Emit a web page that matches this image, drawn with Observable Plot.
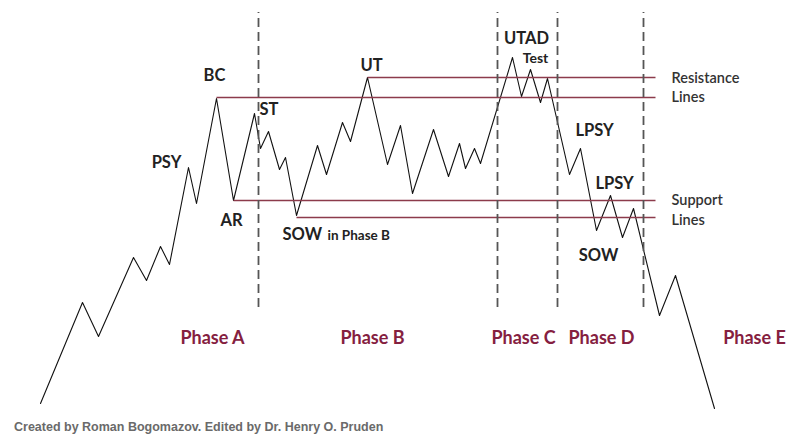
<!DOCTYPE html>
<html>
<head>
<meta charset="utf-8">
<script src="https://cdn.jsdelivr.net/npm/d3@7"></script>
<script src="https://cdn.jsdelivr.net/npm/@observablehq/plot@0.6"></script>
<style>
  html, body { margin: 0; padding: 0; background: #fff; }
  #chart { width: 787px; }
  #caption { font-family: "Liberation Sans", Arial, sans-serif; font-weight: bold; font-size: 12.5px; color: #6a6a6a; padding-left: 14px; height: 22px; line-height: 18px; }
</style>
</head>
<body>
<div id="chart"></div>
<div id="caption">Created by Roman Bogomazov. Edited by Dr. Henry O. Pruden</div>
<script>
// Price path (time, price) read from the schematic
const pathT = [40,82,98,133,146,160,169,188,196,216,233,254,260,268,279,285,296,317,326,342,350,367,387,400,412,433,448,459,465,474,480,512,521,530,540,547,569,580,596,610,622,633,659,675,714];
const pathP = [37,138,104,183,160,194,176,273,237,342,240,327,292,309,271,283,225,295,266,318,299,363,276,315,247,311,264,297,272,292,277,383,344,371,338,362,266,292,210,245,203,232,125,165,32];

// Resistance / support levels
const levelNames = ["Resistance (UT)", "Resistance (BC)", "Support (AR)", "Support (SOW)"];
const levelPrice = [363, 343, 240, 223];
const levelStart = [367, 216, 233, 296];
const levelEnd = [655, 655, 655, 655];

// Phase boundaries
const phaseBounds = [258, 497, 557, 643];
const boundTop = 428, boundBottom = 133;

// Phase labels
const phaseNames = ["Phase A", "Phase B", "Phase C", "Phase D", "Phase E"];
const phaseCenters = [212, 372, 523, 601, 754];
const phaseLabelPrice = 102;

// Event labels
const eventText = ["BC", "PSY", "AR", "ST", "UT", "UTAD", "LPSY", "LPSY", "SOW"];
const eventT = [214, 166, 231, 259, 371, 526, 594, 614, 598];
const eventP = [365, 278, 220, 331, 375, 402, 310, 257, 185];
const eventAnchor = ["middle", "middle", "middle", "start", "middle", "middle", "middle", "middle", "middle"];

const path = pathT.map((t, i) => ({t, p: pathP[i]}));
const levels = levelNames.map((n, i) => ({n, p: levelPrice[i], x1: levelStart[i], x2: levelEnd[i]}));
const bounds = phaseBounds.map(t => ({t, y1: boundBottom, y2: boundTop}));
const phases = phaseNames.map((n, i) => ({n, t: phaseCenters[i], p: phaseLabelPrice}));
const events = eventText.map((n, i) => ({n, t: eventT[i], p: eventP[i], a: eventAnchor[i]}));
const eventsStart = events.filter(d => d.a === "start");
const eventsMid = events.filter(d => d.a === "middle");

const labelFont = "Lato, 'Open Sans', sans-serif";

const chart = Plot.plot({
  width: 787,
  height: 418,
  margin: 0,
  x: {domain: [0, 787], range: [0, 787], axis: null},
  y: {domain: [22, 440], range: [418, 0], axis: null},
  style: {background: "#fff"},
  marks: [
    Plot.line(path, {x: "t", y: "p", stroke: "#111", strokeWidth: 1.1}),
    Plot.link(levels, {x1: "x1", x2: "x2", y1: "p", y2: "p", stroke: "#8c3b4b", strokeWidth: 1.4}),
    Plot.ruleX(bounds, {x: "t", y1: "y1", y2: "y2", stroke: "#555", strokeWidth: 1.8, strokeDasharray: "9,5"}),
    Plot.text(eventsMid, {x: "t", y: "p", text: "n", textAnchor: "middle", fontSize: 16.5, fontWeight: "bold", fill: "#222", fontFamily: labelFont}),
    Plot.text(eventsStart, {x: "t", y: "p", text: "n", textAnchor: "start", fontSize: 16.5, fontWeight: "bold", fill: "#222", fontFamily: labelFont}),
    Plot.text([{n: "SOW", t: 282, p: 206}], {x: "t", y: "p", text: "n", textAnchor: "start", fontSize: 16.5, fontWeight: "bold", fill: "#222", fontFamily: labelFont}),
    Plot.text([{n: "in Phase B", t: 327, p: 205}], {x: "t", y: "p", text: "n", textAnchor: "start", fontSize: 13.5, fontWeight: "bold", fill: "#222", fontFamily: labelFont}),
    Plot.text([{n: "Test", t: 535, p: 382}], {x: "t", y: "p", text: "n", textAnchor: "middle", fontSize: 14, fontWeight: "bold", fill: "#222", fontFamily: labelFont}),
    Plot.text([
      {n: "Resistance", t: 671, p: 362},
      {n: "Lines", t: 671, p: 343},
      {n: "Support", t: 671, p: 240},
      {n: "Lines", t: 671, p: 220}
    ], {x: "t", y: "p", text: "n", textAnchor: "start", fontSize: 14.5, fontWeight: 600, fill: "#333", fontFamily: labelFont}),
    Plot.text(phases, {x: "t", y: "p", text: "n", textAnchor: "middle", fontSize: 18, fontWeight: "bold", fill: "#85203f", fontFamily: labelFont})
  ]
});
document.getElementById("chart").appendChild(chart);
</script>
</body>
</html>
